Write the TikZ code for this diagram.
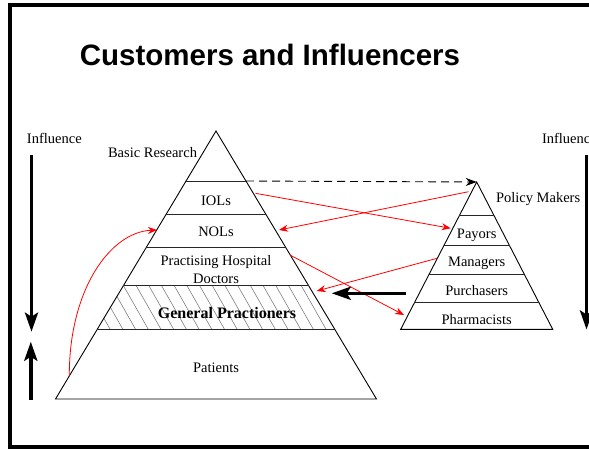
\documentclass[tikz,border=0pt]{standalone}
\usepackage{fontspec}
\setmainfont{Liberation Serif}
\newfontfamily\headfont{Liberation Sans}
\usetikzlibrary{arrows.meta}
\begin{document}
\begin{tikzpicture}[x=1pt,y=-1pt,
  every node/.style={inner sep=0pt,outer sep=0pt},
  lbl/.style={font=\fontsize{14.5}{17}\selectfont, anchor=base},
  edge/.style={line width=0.9pt},
  tierline/.style={line width=0.9pt, black!85},
  hatchline/.style={gray, line width=0.6pt},
  redarrow/.style={red, line width=0.8pt, -{Stealth[length=9pt,width=7pt]}},
  bigarrow/.style={line width=3.6pt, -{Stealth[length=19pt,width=13pt,inset=4pt]}},
  dasharrow/.style={line width=0.9pt, dash pattern=on 8pt off 5pt, -{Stealth[length=11pt,width=8pt]}}
]
\clip (0,0) rectangle (589,448);
\fill[white] (0,0) rectangle (589,448);
% slide frame
\draw[line width=4pt] (10.3,5.3) rectangle (640,446.5);

% title
\node[anchor=base, font=\headfont\bfseries\fontsize{29.5}{34}\selectfont] (title) at (270,65) {Customers and Influencers};

% ---------- left pyramid ----------
\coordinate (LA) at (216,131);
\coordinate (LL) at (55.5,399);
\coordinate (LR) at (376.5,399);
% hatched band of general practitioners
\begin{scope}
  \clip (123.4,285.7) -- (308.6,285.7) -- (335,329.7) -- (97,329.7) -- cycle;
  \foreach \x in {60,72.7,...,340} \draw[hatchline] (\x,285.7) -- ++(25,44);
\end{scope}
\draw[edge] (LA) -- (LR) -- (LL) -- cycle;
\draw[tierline] (186.1,181) -- (245.9,181);
\draw[tierline] (165.9,214.7) -- (266.1,214.7);
\draw[tierline] (146.3,247.3) -- (285.7,247.3);
\draw[tierline] (123.4,285.7) -- (308.6,285.7);
\draw[tierline] (97,329.7) -- (335,329.7);

\node[lbl, anchor=base east] (basic) at (197,157) {Basic Research};
\node[lbl] (iol) at (216,205.7) {IOLs};
\node[lbl] (nol) at (216,236) {NOLs};
\node[lbl] (phd1) at (216,265.7) {Practising Hospital};
\node[lbl] (phd2) at (216,283.3) {Doctors};
\node[anchor=base, font=\bfseries\fontsize{16}{19}\selectfont] (gp) at (227,318.3) {General Practioners};
\node[lbl] (pat) at (216,372.7) {Patients};

% ---------- right pyramid ----------
\coordinate (RA) at (476.7,182);
\coordinate (RL) at (400.7,329.3);
\coordinate (RR) at (552.7,329.3);
\draw[edge] (RA) -- (RR) -- (RL) -- cycle;
\draw[tierline] (459.3,215.7) -- (494.1,215.7);
\draw[tierline] (443.8,245.7) -- (509.6,245.7);
\draw[tierline] (429.1,274.3) -- (524.3,274.3);
\draw[tierline] (414.4,302.7) -- (539,302.7);

\node[lbl, anchor=base west] (policy) at (496,202.3) {Policy Makers};
\node[lbl] (payors) at (476.7,238.3) {Payors};
\node[lbl] (managers) at (476.7,266.3) {Managers};
\node[lbl] (purch) at (476.7,295.5) {Purchasers};
\node[lbl] (pharm) at (476.7,324) {Pharmacists};

% ---------- influence scales ----------
\node[lbl, anchor=base west] (inflL) at (27,143.3) {Influence};
\node[lbl, anchor=base west] (inflR) at (542,143.3) {Influence};
\coordinate (dnTop) at (31.5,155);
\coordinate (dnTip) at (31.5,331.7);
\coordinate (upBot) at (30.8,400);
\coordinate (upTip) at (30.8,341.7);
\coordinate (rdTop) at (586.5,155);
\coordinate (rdTip) at (586.5,329.5);
\draw[bigarrow] (dnTop) -- (dnTip);
\draw[bigarrow] (upBot) -- (upTip);
\draw[bigarrow] (rdTop) -- (rdTip);

% ---------- connectors ----------
\coordinate (brTop) at (246,181);
\draw[dasharrow] (brTop) -- (RA);

\coordinate (iolR) at (255.5,193.3);
\coordinate (payL) at (450.7,228.3);
\coordinate (polL) at (468.5,191.7);
\coordinate (nolR) at (279,230);
\coordinate (phdR) at (290,255);
\coordinate (pharmL) at (404,315);
\coordinate (manL) at (437,258.3);
\coordinate (gpR) at (316.7,291);
\coordinate (patL) at (69.3,376);
\coordinate (nolL) at (157,230);
\draw[redarrow] (iolR) -- (payL);
\draw[redarrow] (polL) -- (nolR);
\draw[redarrow] (phdR) -- (pharmL);
\draw[redarrow] (manL) -- (gpR);
\draw[redarrow] (patL) .. controls (69,290) and (110,232) .. (nolL);

\coordinate (pushStart) at (406,293.3);
\coordinate (pushTip) at (331.7,293.3);
\draw[bigarrow] (pushStart) -- (pushTip);
\end{tikzpicture}
\end{document}
